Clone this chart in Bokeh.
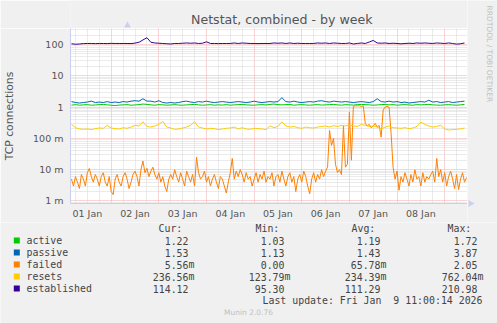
from math import pi
from bokeh.plotting import figure
from bokeh.layouts import column, row
from bokeh.models import Range1d, FixedTicker, Grid, ColumnDataSource
from bokeh.core.properties import value
from bokeh.embed import file_html
from bokeh.resources import INLINE

# ---------------- data ----------------
TITLE = "Netstat, combined - by week"
Y_LABEL = "TCP connections"
SERIES_NAMES = ["active", "passive", "failed", "resets", "established"]
SERIES_COLORS = ["#00CC00", "#0066B3", "#FF8000", "#FFCC00", "#330099"]

# hours since 01 Jan 00:00; 2-hour samples start at 04:00, failed has hourly samples
T_START_2H = 4
T_STEP_2H = 2
T_START_1H = 4
T_STEP_1H = 1

active = [
    1.15, 1.20, 1.15, 1.18, 1.20, 1.15, 1.17, 1.20, 1.22, 1.18,
    1.15, 1.12, 1.16, 1.18, 1.20, 1.15, 1.17, 1.20, 1.25, 1.22,
    1.18, 1.15, 1.20, 1.18, 1.15, 1.17, 1.20, 1.16, 1.15, 1.18,
    1.20, 1.22, 1.18, 1.15, 1.17, 1.20, 1.15, 1.18, 1.16, 1.20,
    1.15, 1.18, 1.20, 1.22, 1.18, 1.16, 1.15, 1.18, 1.20, 1.17,
    1.22, 1.25, 1.20, 1.18, 1.20, 1.22, 1.15, 1.18, 1.20, 1.17,
    1.15, 1.18, 1.20, 1.16, 1.18, 1.20, 1.22, 1.18, 1.15, 1.20,
    1.18, 1.16, 1.20, 1.22, 1.20, 1.18, 1.15, 1.17, 1.20, 1.22,
    1.18, 1.20, 1.15, 1.18, 1.20, 1.17, 1.15, 1.20, 1.18, 1.20,
    1.22, 1.18, 1.16, 1.15, 1.18, 1.20, 1.17, 1.15, 1.18, 1.22,
]
passive = [
    1.50, 1.40, 1.35, 1.40, 1.45, 1.55, 1.40, 1.45, 1.40, 1.50,
    1.40, 1.45, 1.40, 1.50, 1.45, 1.55, 1.60, 1.55, 1.85, 1.55,
    1.55, 1.45, 1.60, 1.40, 1.35, 1.40, 1.35, 1.40, 1.50, 1.55,
    1.45, 1.40, 1.50, 1.45, 1.55, 1.45, 1.40, 1.45, 1.50, 1.45,
    1.40, 1.45, 1.50, 1.45, 1.40, 1.45, 1.55, 1.45, 1.40, 1.45,
    1.50, 1.45, 1.50, 2.00, 1.50, 1.45, 1.55, 1.45, 1.40, 1.45,
    1.50, 1.45, 1.55, 1.60, 1.50, 1.45, 1.55, 1.50, 1.45, 1.50,
    1.45, 1.40, 1.45, 1.50, 1.45, 1.40, 1.50, 1.85, 1.50, 1.45,
    1.55, 1.45, 1.50, 1.40, 1.45, 1.35, 1.40, 1.45, 1.50, 1.45,
    1.65, 1.45, 1.50, 1.40, 1.45, 1.50, 1.40, 1.45, 1.50, 1.55,
]
# milli-connections, hourly
failed_m = [
    5, 3, 6, 4, 2.5, 7, 5, 3, 8, 11,
    6, 4, 7, 5, 3, 6, 8, 4, 3, 6,
    2, 1.6, 5, 7, 4, 3, 6, 8, 5, 2.5,
    4, 7, 9, 6, 3, 10, 19, 8, 11, 6,
    9, 12, 7, 5, 8, 4, 6, 3, 2, 5,
    7, 5, 10, 6, 4, 8, 5, 3, 9, 6,
    4, 7, 3, 25, 8, 5, 6, 9, 4, 6,
    3, 5, 7, 4, 2.5, 6, 5, 3, 1.8, 4,
    8, 23, 5, 9, 6, 10, 7, 4, 8, 5,
    6, 3, 5, 8, 4, 7, 5, 9, 4, 6,
    5, 8, 3, 6, 7, 4, 9, 5, 3, 6,
    8, 4, 6, 2, 5, 7, 4, 9, 6, 3,
    1.7, 5, 8, 4, 7, 5, 10, 6, 9, 12,
    180, 60, 100, 15, 8, 10, 7, 250, 12, 15,
    700, 20, 1050, 1100, 1100, 1100, 1050, 1100, 300, 250,
    280, 220, 250, 300, 230, 260, 110, 800, 1000, 1050,
    1000, 150, 12, 5, 9, 2.2, 6, 4, 8, 5,
    3, 7, 4, 10, 5, 6, 3, 8, 4, 6,
    5, 7, 9, 4, 23, 6, 10, 4, 8, 3,
    6, 9, 5, 2.5, 7, 2.3, 5, 8, 4, 5.6,
]
resets_m = [
    280, 220, 200, 195, 200, 190, 205, 215, 210, 260,
    215, 205, 200, 220, 210, 230, 260, 250, 340, 240,
    230, 250, 280, 350, 230, 215, 195, 200, 215, 230,
    260, 340, 230, 215, 200, 210, 205, 190, 200, 210,
    215, 230, 200, 220, 200, 195, 210, 205, 200, 190,
    250, 220, 240, 340, 250, 230, 240, 220, 210, 230,
    220, 215, 230, 240, 250, 230, 255, 240, 260, 250,
    270, 250, 240, 280, 260, 240, 250, 230, 200, 230,
    250, 220, 215, 210, 220, 205, 215, 240, 330, 280,
    250, 230, 240, 260, 200, 185, 190, 195, 200, 215,
]
established = [
    106, 102, 104, 107, 108, 108, 107, 108, 108, 107,
    109, 108, 108, 108, 108, 107, 111, 118, 140, 165,
    118, 112, 110, 108, 106, 104, 108, 108, 110, 112,
    110, 112, 108, 110, 122, 108, 108, 107, 108, 108,
    108, 112, 108, 112, 110, 108, 108, 107, 108, 108,
    108, 112, 110, 112, 108, 112, 108, 110, 108, 108,
    108, 108, 112, 110, 112, 108, 112, 110, 108, 108,
    112, 104, 108, 112, 108, 120, 135, 112, 110, 112,
    108, 110, 108, 105, 108, 110, 108, 112, 110, 112,
    110, 108, 112, 110, 108, 112, 108, 103, 106, 112,
]

XTICK_HOURS = [12, 36, 60, 84, 108, 132, 156, 180]
XTICK_LABELS = ["01 Jan", "02 Jan", "03 Jan", "04 Jan", "05 Jan", "06 Jan", "07 Jan", "08 Jan"]
YTICK_VALUES = [0.001, 0.01, 0.1, 1, 10, 100]
YTICK_LABELS = ["1 m", "10 m", "100 m", "1", "10", "100"]

LEGEND_HEADERS = ["Cur:", "Min:", "Avg:", "Max:"]
CUR = [1.22, 1.53, 5.56e-3, 236.56e-3, 114.12]
MIN = [1.03, 1.13, 0.00, 123.79e-3, 95.30]
AVG = [1.19, 1.43, 65.78e-3, 234.39e-3, 111.29]
MAX = [1.72, 3.87, 2.05, 762.04e-3, 210.98]
# the day number is space-padded ("Jan  9"); a no-break space keeps both spaces visible
LAST_UPDATE = "Last update: Fri Jan \u00a09 11:00:14 2026"
CREDIT = "RRDTOOL / TOBI OETIKER"
FOOTER = "Munin 2.0.76"

# ---------------- layout constants (canvas pixels) ----------------
W, H = 497, 323
FL, FR, FT, FB = 67, 467, 28, 203   # frame edges
MAIN_BOTTOM = 222                   # bottom of the chart block
BG = "#F0F0F0"
AXIS_COL = "#ccd0f0"
TEXT_COL = "#444444"
X_START, X_END = 3.5, 203.5
Y_MIN, Y_MAX = 0.00083, 325


def canvas_fig(x0, x1, y0, y1):
    """A plain figure whose data coordinates are canvas pixels (y downwards)."""
    f = figure(width=x1 - x0, height=y1 - y0, output_backend="svg", toolbar_location=None,
               x_range=Range1d(x0, x1), y_range=Range1d(y1, y0),
               x_axis_location=None, y_axis_location=None,
               min_border=0, min_border_left=0, min_border_right=0,
               min_border_top=0, min_border_bottom=0)
    f.background_fill_color = BG
    f.border_fill_color = BG
    f.outline_line_color = None
    f.grid.visible = False
    return f


# ---- title strip ----
tf = canvas_fig(0, FR, 0, FT)
tf.text(x=[248.5], y=[19], text=[TITLE], text_font=value("DejaVu Sans"),
        text_font_size=value("12.6px"), text_color="#555555",
        text_align="center", text_baseline="middle")
tf.scatter(x=[FL], y=[25], marker="triangle", size=7, fill_color=AXIS_COL, line_color=None)

# ---- main chart ----
p = figure(width=FR, height=MAIN_BOTTOM - FT, output_backend="svg", toolbar_location=None,
           x_range=Range1d(X_START, X_END), y_range=Range1d(Y_MIN, Y_MAX),
           y_axis_type="log",
           min_border_left=FL, min_border_right=0,
           min_border_top=0, min_border_bottom=MAIN_BOTTOM - FB)
p.background_fill_color = "white"
p.border_fill_color = BG
p.outline_line_color = None

for ax in (p.xaxis[0], p.yaxis[0]):
    ax.axis_line_color = AXIS_COL
    ax.major_tick_line_color = None
    ax.minor_tick_line_color = None
    ax.major_tick_out = 0
    ax.major_tick_in = 0
    ax.minor_tick_out = 0
    ax.minor_tick_in = 0
    ax.major_label_text_font = "DejaVu Sans"
    ax.major_label_text_font_size = "9.5px"
    ax.major_label_text_color = "#555555"

p.xaxis.ticker = FixedTicker(ticks=XTICK_HOURS, minor_ticks=[])
p.xaxis.major_label_overrides = {h: l for h, l in zip(XTICK_HOURS, XTICK_LABELS)}
p.xaxis.major_label_standoff = 4

p.yaxis.ticker = FixedTicker(ticks=YTICK_VALUES, minor_ticks=[])
p.yaxis.major_label_overrides = {v: l for v, l in zip(YTICK_VALUES, YTICK_LABELS)}
p.yaxis.major_label_standoff = 7
p.yaxis.axis_label = Y_LABEL
p.yaxis.axis_label_text_font = "DejaVu Sans"
p.yaxis.axis_label_text_font_size = "10.8px"
p.yaxis.axis_label_text_font_style = "normal"
p.yaxis.axis_label_text_color = "#555555"
p.yaxis.axis_label_standoff = 14

MIDNIGHTS = [24 * d for d in range(1, 9)]
SIX_HOURS = [h for h in range(6, 204, 6) if h % 24]
Y_MINOR = [m * 10.0 ** e for e in range(-4, 3) for m in range(2, 10)]

p.xgrid.ticker = FixedTicker(ticks=MIDNIGHTS)
p.ygrid.ticker = FixedTicker(ticks=YTICK_VALUES)
for g in (p.xgrid[0], p.ygrid[0]):
    g.grid_line_color = "#f2a8a8"
    g.grid_line_dash = "1 1"
    g.grid_line_width = 1
p.add_layout(Grid(dimension=0, ticker=FixedTicker(ticks=SIX_HOURS),
                  grid_line_color="#d6d6d6", grid_line_dash="1 1"))
p.add_layout(Grid(dimension=1, ticker=FixedTicker(ticks=Y_MINOR),
                  grid_line_color="#d6d6d6", grid_line_dash="1 1"))

t2 = [T_START_2H + T_STEP_2H * i for i in range(len(active))]
t1 = [T_START_1H + T_STEP_1H * i for i in range(len(failed_m))]
series_x = [t2, t2, t1, t2, t2]
series_y = [active, passive, [v / 1000 for v in failed_m], [v / 1000 for v in resets_m], established]
for xs, ys, col in zip(series_x, series_y, SERIES_COLORS):
    src = ColumnDataSource(dict(t=xs, v=ys))
    p.line("t", "v", source=src, line_color=col, line_width=1)

# ---- right strip with credit text ----
cf = canvas_fig(FR, W, 0, MAIN_BOTTOM)
cf.text(x=[488.5], y=[5], text=[CREDIT], angle=-pi / 2, text_font=value("DejaVu Sans"),
        text_font_size=value("7.5px"), text_color="#c0c0c0",
        text_align="left", text_baseline="middle")
cf.scatter(x=[470], y=[FB], marker="triangle", angle=-pi / 2, size=7,
           fill_color=AXIS_COL, line_color=None)

# ---- legend block ----
lf = canvas_fig(0, W, MAIN_BOTTOM, H)
MONO = dict(text_font=value("DejaVu Sans Mono"), text_font_size=value("9.9px"),
            text_color=TEXT_COL, text_baseline="middle")


def fmt(v):
    if v != 0 and abs(v) < 1:
        return "%.2f" % (v * 1000), "m"
    return "%.2f" % v, ""


ROW_Y = [240 + 12 * r for r in range(len(SERIES_NAMES))]
COL_X = [188, 284, 380, 477]

lf.text(x=[158, 255, 351, 447], y=[228] * 4, text=LEGEND_HEADERS, text_align="left", **MONO)
lf.rect(x=[16.3] * len(ROW_Y), y=ROW_Y, width=6, height=6, fill_color=SERIES_COLORS, line_color=None)
lf.text(x=[26] * len(ROW_Y), y=ROW_Y, text=SERIES_NAMES, text_align="left", **MONO)

num_x, num_y, num_t, suf_x, suf_y, suf_t = [], [], [], [], [], []
for r in range(len(SERIES_NAMES)):
    for vals, cx in zip([CUR, MIN, AVG, MAX], COL_X):
        num, suf = fmt(vals[r])
        num_x.append(cx); num_y.append(ROW_Y[r]); num_t.append(num)
        if suf:
            suf_x.append(cx); suf_y.append(ROW_Y[r]); suf_t.append(suf)
lf.text(x=num_x, y=num_y, text=num_t, text_align="right", **MONO)
lf.text(x=suf_x, y=suf_y, text=suf_t, text_align="left", **MONO)

lf.text(x=[482], y=[300], text=[LAST_UPDATE], text_align="right", **MONO)
lf.text(x=[248], y=[312], text=[FOOTER], text_font=value("DejaVu Sans"),
        text_font_size=value("7.5px"), text_color="#c0c0c0",
        text_align="center", text_baseline="middle")

layout = column(row(column(tf, p), cf), lf)
open("out.html", "w").write(file_html(layout, INLINE))
